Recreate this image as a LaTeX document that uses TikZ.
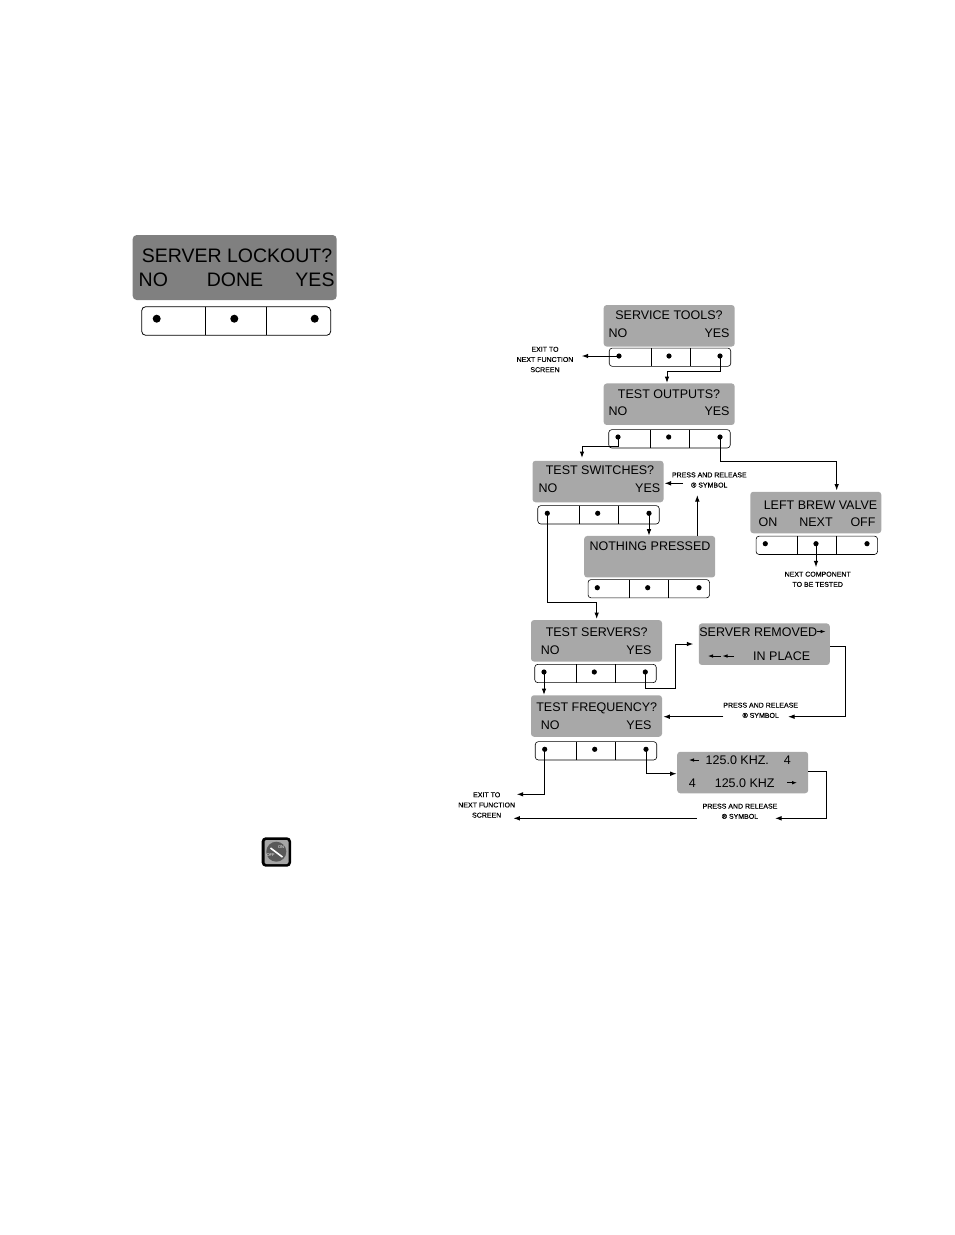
\documentclass[tikz,border=0pt]{standalone}
\usepackage{fontspec}
\setmainfont{Liberation Sans}
\newfontfamily\notefont[FakeBold=0.25]{Liberation Sans}
\usetikzlibrary{arrows.meta}
\tikzset{
  screen/.style={fill=black!34,rounded corners=3pt,inner sep=0pt,minimum width=131pt,minimum height=41.5pt},
  bigscreen/.style={fill=black!50,rounded corners=4pt,inner sep=0pt,minimum width=204pt,minimum height=65pt},
  pad/.style={draw,line width=0.6pt,rounded corners=3pt,inner sep=0pt,minimum width=121.5pt,minimum height=18.3pt},
  bigpad/.style={draw,line width=0.8pt,rounded corners=4pt,inner sep=0pt,minimum width=189pt,minimum height=28.6pt},
  dot/.style={circle,fill=black,inner sep=0pt,minimum size=5.2pt},
  bigdot/.style={circle,fill=black,inner sep=0pt,minimum size=8pt},
  lcd/.style={inner sep=0pt,text height=9pt,text depth=0pt,font=\fontsize{12.5pt}{14pt}\selectfont},
  biglcd/.style={inner sep=0pt,text height=14pt,text depth=0pt,font=\fontsize{19.5pt}{22pt}\selectfont},
  note/.style={inner sep=0pt,align=center,font=\notefont\fontsize{7pt}{10.2pt}\selectfont},
  flow/.style={line width=1pt,-{Latex[length=6.5pt,width=4.6pt]}},
  tiny/.style={line width=0.8pt,-{Latex[length=5pt,width=3.6pt]}}
}
\begin{document}
\begin{tikzpicture}[x=1pt,y=-1pt]
\useasboundingbox (0,0) rectangle (954,1235);
% large display
\node[bigscreen] (lockout) at (234.7,267.5) {};
\node[biglcd] (lockoutt) at (237,255.7) {SERVER LOCKOUT?};
\node[biglcd] (lockoutn) at (153.3,279) {NO};
\node[biglcd] (lockoutd) at (235,279) {DONE};
\node[biglcd] (lockouty) at (315,279) {YES};
\node[bigpad] (lockoutpad) at (236.2,321) {};
\draw[line width=0.8pt] (205.7,306.7) -- (205.7,335.3);
\draw[line width=0.8pt] (266.3,306.7) -- (266.3,335.3);
\node[bigdot] (lockoutd1) at (156.7,318.7) {};
\node[bigdot] (lockoutd2) at (234.3,318.7) {};
\node[bigdot] (lockoutd3) at (314.7,318.7) {};
% service tools
\node[screen] (tools) at (669.2,325.8) {};
\node[lcd] (toolst) at (669,315) {SERVICE TOOLS?};
\node[lcd] (toolsn) at (618,332.7) {NO};
\node[lcd] (toolsy) at (717,332.7) {YES};
\node[pad] (toolspad) at (670,357.2) {};
\draw[line width=0.7pt] (651.3,348) -- (651.3,366.3);
\draw[line width=0.7pt] (690,348) -- (690,366.3);
\node[dot] (toolsno) at (619,356) {};
\node[dot] (toolsmid) at (669,356) {};
\node[dot] (toolsyes) at (720,356) {};
\node[note] (exita) at (545,359.5) {EXIT TO\\NEXT FUNCTION\\SCREEN};
% test outputs
\node[screen] (outputs) at (669.2,404.2) {};
\node[lcd] (outputst) at (669,393.8) {TEST OUTPUTS?};
\node[lcd] (outputsn) at (618,411) {NO};
\node[lcd] (outputsy) at (717,411) {YES};
\node[pad] (outputspad) at (669.5,438.8) {};
\draw[line width=0.7pt] (650.3,429.7) -- (650.3,448);
\draw[line width=0.7pt] (689.3,429.7) -- (689.3,448);
\node[dot] (outputsno) at (618,437) {};
\node[dot] (outputsmid) at (668.7,437) {};
\node[dot] (outputsyes) at (720,437) {};
% test switches
\node[screen] (switches) at (598,481.5) {};
\node[lcd] (switchest) at (600,470) {TEST SWITCHES?};
\node[lcd] (switchesn) at (548,487.7) {NO};
\node[lcd] (switchesy) at (647.7,487.7) {YES};
\node[pad] (switchespad) at (598.5,514.8) {};
\draw[line width=0.7pt] (579.3,505.7) -- (579.3,524);
\draw[line width=0.7pt] (618.3,505.7) -- (618.3,524);
\node[dot] (switchesno) at (547.3,513.3) {};
\node[dot] (switchesmid) at (597.7,513.3) {};
\node[dot] (switchesyes) at (649,513.3) {};
\node[note] (pressa) at (709.3,480) {PRESS AND RELEASE\\® SYMBOL};
% nothing pressed
\node[screen] (nothing) at (649.7,556.7) {};
\node[lcd] (nothingt) at (650,545.7) {NOTHING PRESSED};
\node[pad] (nothingpad) at (648.8,588.7) {};
\draw[line width=0.7pt] (629.3,579.5) -- (629.3,598);
\draw[line width=0.7pt] (668.3,579.5) -- (668.3,598);
\node[dot] (nothingd1) at (597.3,587.7) {};
\node[dot] (nothingd2) at (647.7,587.7) {};
\node[dot] (nothingd3) at (699,587.7) {};
% left brew valve
\node[screen] (valve) at (815.8,512.5) {};
\node[lcd] (valvet) at (820.5,505) {LEFT BREW VALVE};
\node[lcd] (valveon) at (768,522.4) {ON};
\node[lcd] (valvenext) at (816,522.4) {NEXT};
\node[lcd] (valveoff) at (863,522.4) {OFF};
\node[pad] (valvepad) at (816.8,545.3) {};
\draw[line width=0.7pt] (797.3,536) -- (797.3,554.7);
\draw[line width=0.7pt] (836.3,536) -- (836.3,554.7);
\node[dot] (valved1) at (765.3,543.7) {};
\node[dot] (valved2) at (816,543.7) {};
\node[dot] (valved3) at (867,543.7) {};
\node[note] (nextc) at (817.7,579.3) {NEXT COMPONENT\\TO BE TESTED};
% test servers
\node[screen] (servers) at (596.5,640.8) {};
\node[lcd] (serverst) at (596.7,631.8) {TEST SERVERS?};
\node[lcd] (serversn) at (550.3,650) {NO};
\node[lcd] (serversy) at (639,650) {YES};
\node[pad] (serverspad) at (595.5,673.5) {};
\draw[line width=0.7pt] (576.3,664.3) -- (576.3,682.7);
\draw[line width=0.7pt] (615.3,664.3) -- (615.3,682.7);
\node[dot] (serversno) at (544,672) {};
\node[dot] (serversmid) at (594.3,672) {};
\node[dot] (serversyes) at (645.3,672) {};
% server removed
\node[screen] (removed) at (764.3,644.2) {};
\node[lcd] (removedt) at (758.3,631.5) {SERVER REMOVED};
\node[lcd] (removedp) at (781.7,656.3) {IN PLACE};
\draw[tiny] (816.5,631.5) -- (825.5,631.5);
\draw[tiny] (721,656) -- (708,656);
\draw[tiny] (734,656) -- (722.5,656);
\node[note] (pressb) at (760.7,710.3) {PRESS AND RELEASE\\® SYMBOL};
% test frequency
\node[screen] (freq) at (596.5,716) {};
\node[lcd] (freqt) at (596.7,706.7) {TEST FREQUENCY?};
\node[lcd] (freqn) at (550.3,725) {NO};
\node[lcd] (freqy) at (639,725) {YES};
\node[pad] (freqpad) at (596,750.8) {};
\draw[line width=0.7pt] (576.7,741.7) -- (576.7,760);
\draw[line width=0.7pt] (615.3,741.7) -- (615.3,760);
\node[dot] (freqno) at (544.7,749.3) {};
\node[dot] (freqmid) at (594.7,749.3) {};
\node[dot] (freqyes) at (646,749.3) {};
\node[note] (exitb) at (486.7,805) {EXIT TO\\NEXT FUNCTION\\SCREEN};
% frequency readout
\node[screen] (khz) at (742.7,772.5) {};
\node[lcd] (khza) at (737.3,760) {125.0 KHZ.};
\node[lcd] (khzb) at (787.3,760) {4};
\node[lcd] (khzc) at (692.3,782.7) {4};
\node[lcd] (khzd) at (744.7,782.7) {125.0 KHZ};
\draw[tiny] (698.5,760) -- (689,760);
\draw[tiny] (787,782.7) -- (797,782.7);
\node[note] (pressc) at (740,811.3) {PRESS AND RELEASE\\® SYMBOL};
% connector ends
\coordinate (exitain) at (581.7,356);
\coordinate (outputsin) at (667,383);
\coordinate (switchesin) at (582,458);
\coordinate (valvein) at (836.7,490.5);
\coordinate (pressaout) at (683,483.3);
\coordinate (switchesside) at (664.5,483.3);
\coordinate (pressain) at (697.3,495);
\coordinate (nothingin) at (649,535.7);
\coordinate (nothingtop) at (697.3,536);
\coordinate (nextin) at (816,567.3);
\coordinate (serversin) at (596.7,619);
\coordinate (freqin) at (544,695);
\coordinate (removedin) at (693.3,644);
\coordinate (removedout) at (830,646);
\coordinate (pressbin) at (788,716.7);
\coordinate (pressbout) at (723.3,716.7);
\coordinate (freqside) at (663.3,716.7);
\coordinate (exitbin) at (516.7,794.3);
\coordinate (khzin) at (676.7,773.7);
\coordinate (khzout) at (808.3,771.7);
\coordinate (presscin) at (775,818.3);
\coordinate (presscout) at (696.7,818.3);
\coordinate (exitcin) at (513.3,818.3);
% connectors
\draw[flow] (toolsno.center) -- (exitain);
\draw[flow] (toolsyes.center) -- ++(0,15.7) -| (outputsin);
\draw[flow] (outputsno.center) -- ++(0,9.7) -| (switchesin);
\draw[flow] (outputsyes.center) -- ++(0,24) -| (valvein);
\draw[flow] (pressaout) -- (switchesside);
\draw[flow] (nothingtop) -- (pressain);
\draw[flow] (switchesyes.center) -- (nothingin);
\draw[flow] (switchesno.center) -- ++(0,89) -| (serversin);
\draw[flow] (valved2.center) -- (nextin);
\draw[flow] (serversno.center) -- (freqin);
\draw[flow] (serversyes.center) -- ++(0,16.3) -| ++(30.4,-44.3) -- (removedin);
\draw[flow] (removedout) -| ++(15.7,70.7) -- (pressbin);
\draw[flow] (pressbout) -- (freqside);
\draw[flow] (freqno.center) |- (exitbin);
\draw[flow] (freqyes.center) |- (khzin);
\draw[flow] (khzout) -| ++(17.7,46.6) -- (presscin);
\draw[flow] (presscout) -- (exitcin);
% power key
\fill[rounded corners=4pt] (261.7,837.3) rectangle (291,866.7);
\fill[black!35,rounded corners=2pt] (264.5,840) rectangle (288.5,864);
\fill[black!65] (276.3,851.7) circle (10);
\draw[white,line width=1.6pt] (270.5,848) -- (282.5,857);
\node[inner sep=0pt,text=white,font=\fontsize{4pt}{4pt}\selectfont] (keyon) at (281,847) {ON};
\node[inner sep=0pt,text=white,font=\fontsize{4pt}{4pt}\selectfont] (keyoff) at (270.5,855.5) {OFF};
\end{tikzpicture}
\end{document}
